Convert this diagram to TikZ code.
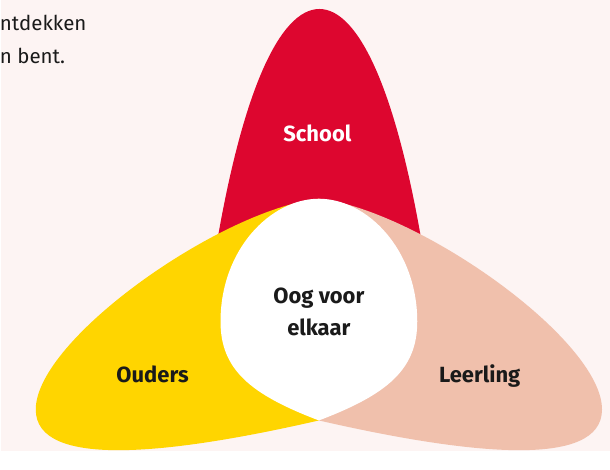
\documentclass[tikz,border=0pt]{standalone}
\usepackage{fontspec}
\setmainfont{Fira Sans}
\usepackage{tikz}
\definecolor{schoolrood}{RGB}{221,6,47}
\definecolor{oudersgeel}{RGB}{255,213,0}
\definecolor{leerlingroze}{RGB}{240,192,172}
\definecolor{achtergrond}{RGB}{253,244,243}
\definecolor{tekst}{RGB}{26,26,26}

\begin{document}
\begin{tikzpicture}[x=1pt, y=-1pt,
    kop/.style={font=\fontsize{22}{32}\selectfont\bfseries, text=tekst, align=center, inner sep=0pt},
    intro/.style={font=\fontsize{20.5}{33}\selectfont, text=tekst, anchor=base west, inner sep=0pt}]

    % achtergrond
    \fill[achtergrond] (0,0) rectangle (610,452);

    % School
    \fill[schoolrood] (212,270) .. controls (240,90) and (280,9) .. (319,9)
        .. controls (358,9) and (398,90) .. (426,270) -- cycle;

    % Ouders
    \fill[oudersgeel] (318.5,199) .. controls (220,210) and (35,340) .. (35,410)
        .. controls (35,470) and (170,455) .. (318.5,421) -- cycle;

    % Leerling
    \fill[leerlingroze] (318.5,199) .. controls (417,210) and (602,340) .. (602,410)
        .. controls (602,470) and (467,455) .. (318.5,421) -- cycle;

    % Oog voor elkaar
    \fill[white] (318.5,421) .. controls (250,395) and (220,370) .. (220,322)
        .. controls (220,250) and (270,199) .. (318.5,199)
        .. controls (367,199) and (417,250) .. (417,322)
        .. controls (417,370) and (387,395) .. (318.5,421) -- cycle;

    \node [kop, text=white, anchor=base] (school) at (317,142) {School};
    \node [kop, anchor=base] (ouders) at (152,383) {Ouders};
    \node [kop, anchor=base] (leerling) at (479.5,383) {Leerling};
    \node [kop] (oog) at (318.5,312) {Oog voor\\elkaar};

    \node [intro] (regel1) at (-1,31) {ntdekken};
    \node [intro] (regel2) at (-1,64) {n bent.};
\end{tikzpicture}
\end{document}
